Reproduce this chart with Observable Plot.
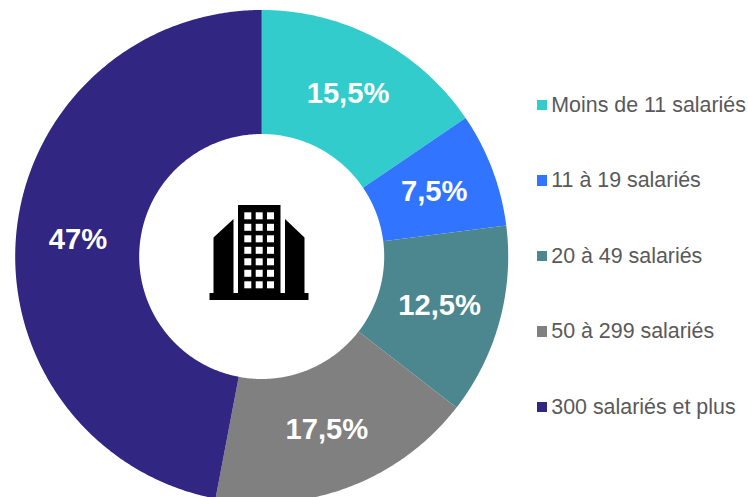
<!DOCTYPE html>
<html lang="fr">
<head>
<meta charset="utf-8">
<script src="https://cdn.jsdelivr.net/npm/d3@7"></script>
<script src="https://cdn.jsdelivr.net/npm/@observablehq/plot@0.6"></script>
<style>
html,body{margin:0;padding:0;background:#fff;overflow:hidden}
#wrap{position:relative;width:748px;height:497px;overflow:hidden;font-family:"Liberation Sans",Arial,sans-serif}
#wrap svg{display:block}
.lg{position:absolute;left:536.5px;display:flex;align-items:center;height:20px;font-size:21.4px;color:#595959;white-space:nowrap}
.lg i{display:block;width:10.5px;height:10.5px;margin-right:4.3px}
</style>
</head>
<body>
<div id="wrap"></div>
<script>
const categories = ["Moins de 11 salariés","11 à 19 salariés","20 à 49 salariés","50 à 299 salariés","300 salariés et plus"];
const values = [15.5,7.5,12.5,17.5,47];
const labels = ["15,5%","7,5%","12,5%","17,5%","47%"];
const colors = ["#33CCCC","#3074FF","#4C868F","#808080","#312682"];
const legendRows = [105,180.5,256,331.5,407];

const rOuter = 246.5, rInner = 122.5;
const arcs = d3.pie().sort(null)(values);
const pt = (a,r) => [r*Math.sin(a), r*Math.cos(a)];

const outline = arcs.flatMap((arc,i) => {
  const n = Math.ceil((arc.endAngle-arc.startAngle)/0.01);
  const ts = d3.range(n+1).map(k => arc.startAngle+(arc.endAngle-arc.startAngle)*k/n);
  const ring = [...ts.map(t=>pt(t,rOuter)), ...ts.slice().reverse().map(t=>pt(t,rInner))];
  return ring.map(([x,y]) => ({x,y,cat:categories[i]}));
});
const centroids = arcs.map((arc,i) => {
  const [x,y] = pt((arc.startAngle+arc.endAngle)/2,(rOuter+rInner)/2);
  return {x,y,label:labels[i]};
});

function icon(){
  const g = d3.create("svg:g");
  g.append("path").attr("fill","#000").attr("d",
    "M209.5 293H308.5V300H209.5Z M238 205H280.5V293H238Z "+
    "M213.5 237.5L233.5 219V293H213.5Z M304.5 237.5L285 219V293H304.5Z");
  for (const x of [244.3,255.7,267]) for (let r=0;r<7;r++)
    g.append("rect").attr("x",x).attr("y",212.3+r*11.5).attr("width",7).attr("height",7).attr("fill","#fff");
  return g.node();
}

const chart = Plot.plot({
  width:748, height:497, margin:0,
  x:{domain:[-261.2,486.8],range:[0,748],axis:null},
  y:{domain:[-241,256],range:[497,0],axis:null},
  color:{domain:categories,range:colors},
  style:{background:"#fff"},
  marks:[
    Plot.line(outline,{x:"x",y:"y",z:"cat",fill:"cat",stroke:"none"}),
    Plot.text(centroids,{x:"x",y:"y",text:"label",dy:0.5,fill:"#fff",fontWeight:"bold",fontSize:29.2,fontFamily:"Liberation Sans, Arial, sans-serif"}),
    icon
  ]
});
const wrap = document.getElementById("wrap");
wrap.appendChild(chart);
categories.forEach((c,i)=>{
  const d = document.createElement("div");
  d.className="lg";
  d.style.top=(legendRows[i]-10)+"px";
  const s = document.createElement("i");
  s.style.background=colors[i];
  d.appendChild(s);
  d.appendChild(document.createTextNode(c));
  wrap.appendChild(d);
});
</script>
</body>
</html>
